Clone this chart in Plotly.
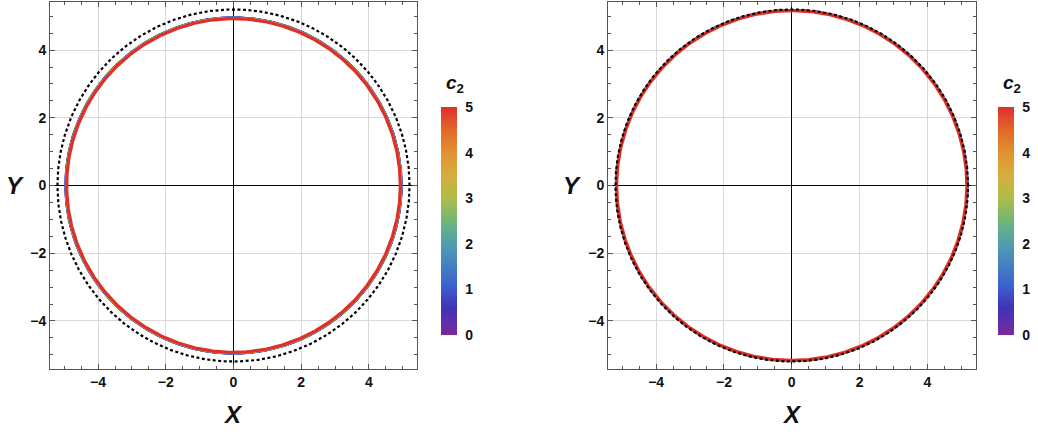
import numpy as np
import plotly.graph_objects as go

W, H = 1038, 437

# parameter values of the curve family and their radii in each panel
c2_values = [0, 0.5, 1, 1.5, 2, 2.5, 3, 3.5, 4, 4.5, 5]
radius_left = [4.975, 4.972, 4.969, 4.966, 4.962, 4.958, 4.954, 4.949, 4.944, 4.938, 4.928]
radius_right = [5.195, 5.193, 5.191, 5.189, 5.187, 5.185, 5.182, 5.179, 5.176, 5.172, 5.165]
dotted_left = 5.2
dotted_right = 5.2

axis_ticks = [-4, -2, 0, 2, 4]
cbar_ticks = [0, 1, 2, 3, 4, 5]

rainbow = [
    [0.00, "#7a2a9c"],
    [0.12, "#3f33b6"],
    [0.22, "#3b62d0"],
    [0.40, "#4f9fae"],
    [0.50, "#70b677"],
    [0.60, "#aebd48"],
    [0.70, "#d6ae3c"],
    [0.80, "#e19230"],
    [0.90, "#e2662a"],
    [1.00, "#df3028"],
]

FONT = "Liberation Sans, Arial, sans-serif"


def colour_at(v, vmin=0.0, vmax=5.0):
    t = (v - vmin) / (vmax - vmin)
    for (t0, c0), (t1, c1) in zip(rainbow[:-1], rainbow[1:]):
        if t0 <= t <= t1:
            f = 0 if t1 == t0 else (t - t0) / (t1 - t0)
            a = [int(c0[i:i + 2], 16) for i in (1, 3, 5)]
            b = [int(c1[i:i + 2], 16) for i in (1, 3, 5)]
            rgb = [round(a[k] + f * (b[k] - a[k])) for k in range(3)]
            return "rgb(%d,%d,%d)" % tuple(rgb)
    return rainbow[-1][1]


theta = np.linspace(0, 2 * np.pi, 721)

fig = go.Figure()


def add_panel(xa, ya, radii, dotted_r, cbar_x):
    xref = "x" if xa == "xaxis" else "x2"
    yref = "y" if ya == "yaxis" else "y2"
    for c2, r in zip(c2_values, radii):
        fig.add_trace(go.Scatter(
            x=r * np.cos(theta), y=r * np.sin(theta), mode="lines",
            line=dict(color=colour_at(c2), width=3.2 if c2 == c2_values[-1] else 1.6),
            xaxis=xref, yaxis=yref, hoverinfo="skip", showlegend=False))
    fig.add_trace(go.Scatter(
        x=dotted_r * np.cos(theta), y=dotted_r * np.sin(theta), mode="lines",
        line=dict(color="black", width=2.2, dash="3px,2.5px"),
        xaxis=xref, yaxis=yref, hoverinfo="skip", showlegend=False))
    # colour scale for c2
    fig.add_trace(go.Scatter(
        x=[0], y=[0], mode="markers", xaxis=xref, yaxis=yref,
        marker=dict(size=0.1, opacity=0, color=[0], cmin=0, cmax=5,
                    colorscale=rainbow, showscale=True,
                    colorbar=dict(
                        x=cbar_x / W, xanchor="left", xpad=0,
                        y=1 - 107 / H, yanchor="top", ypad=0,
                        len=(335 - 107) / H, lenmode="fraction",
                        thickness=16, outlinewidth=0,
                        tickvals=cbar_ticks, ticks="outside", ticklen=6,
                        tickcolor="rgba(255,255,255,0)",
                        tickfont=dict(family=FONT, size=14, color="#111", weight="bold"))),
        hoverinfo="skip", showlegend=False))


add_panel("xaxis", "yaxis", radius_left, dotted_left, 441)
add_panel("xaxis2", "yaxis2", radius_right, dotted_right, 998)

axis_common = dict(
    range=[-5.42, 5.42], tickvals=axis_ticks, ticks="inside", ticklen=5,
    tickcolor="#555", tickwidth=1,
    minor=dict(dtick=0.5, tick0=0, ticks="inside", ticklen=3, tickcolor="#555", showgrid=False),
    showgrid=True, gridcolor="#d9d9d9", gridwidth=1,
    zeroline=True, zerolinecolor="black", zerolinewidth=1,
    showline=True, linecolor="#555", linewidth=1, mirror="allticks",
    tickfont=dict(family=FONT, size=14, color="#111", weight="bold"),
    fixedrange=True,
)

ydom = [1 - 369 / H, 1 - 2 / H]
fig.update_layout(
    width=W, height=H,
    margin=dict(l=0, r=0, t=0, b=0),
    paper_bgcolor="white", plot_bgcolor="white",
    xaxis=dict(domain=[50 / W, 417 / W], anchor="y", **axis_common),
    yaxis=dict(domain=ydom, anchor="x", **axis_common),
    xaxis2=dict(domain=[608 / W, 975.5 / W], anchor="y2", **axis_common),
    yaxis2=dict(domain=ydom, anchor="x2", **axis_common),
)

title_font = dict(family=FONT, size=24, color="#111", weight="bold")
labels = [
    ("<i>X</i>", 233, 414, title_font),
    ("<i>Y</i>", 15, 185, title_font),
    ("<i>X</i>", 791.5, 414, title_font),
    ("<i>Y</i>", 572, 185, title_font),
    ("<i>c</i><sub>2</sub>", 455, 84, dict(family=FONT, size=19, color="#111", weight="bold")),
    ("<i>c</i><sub>2</sub>", 1012, 84, dict(family=FONT, size=19, color="#111", weight="bold")),
]
for text, px, py, font in labels:
    fig.add_annotation(text=text, x=px / W, y=1 - py / H, xref="paper", yref="paper",
                       xanchor="center", yanchor="middle", showarrow=False, font=font)

fig.write_html("out.html")
